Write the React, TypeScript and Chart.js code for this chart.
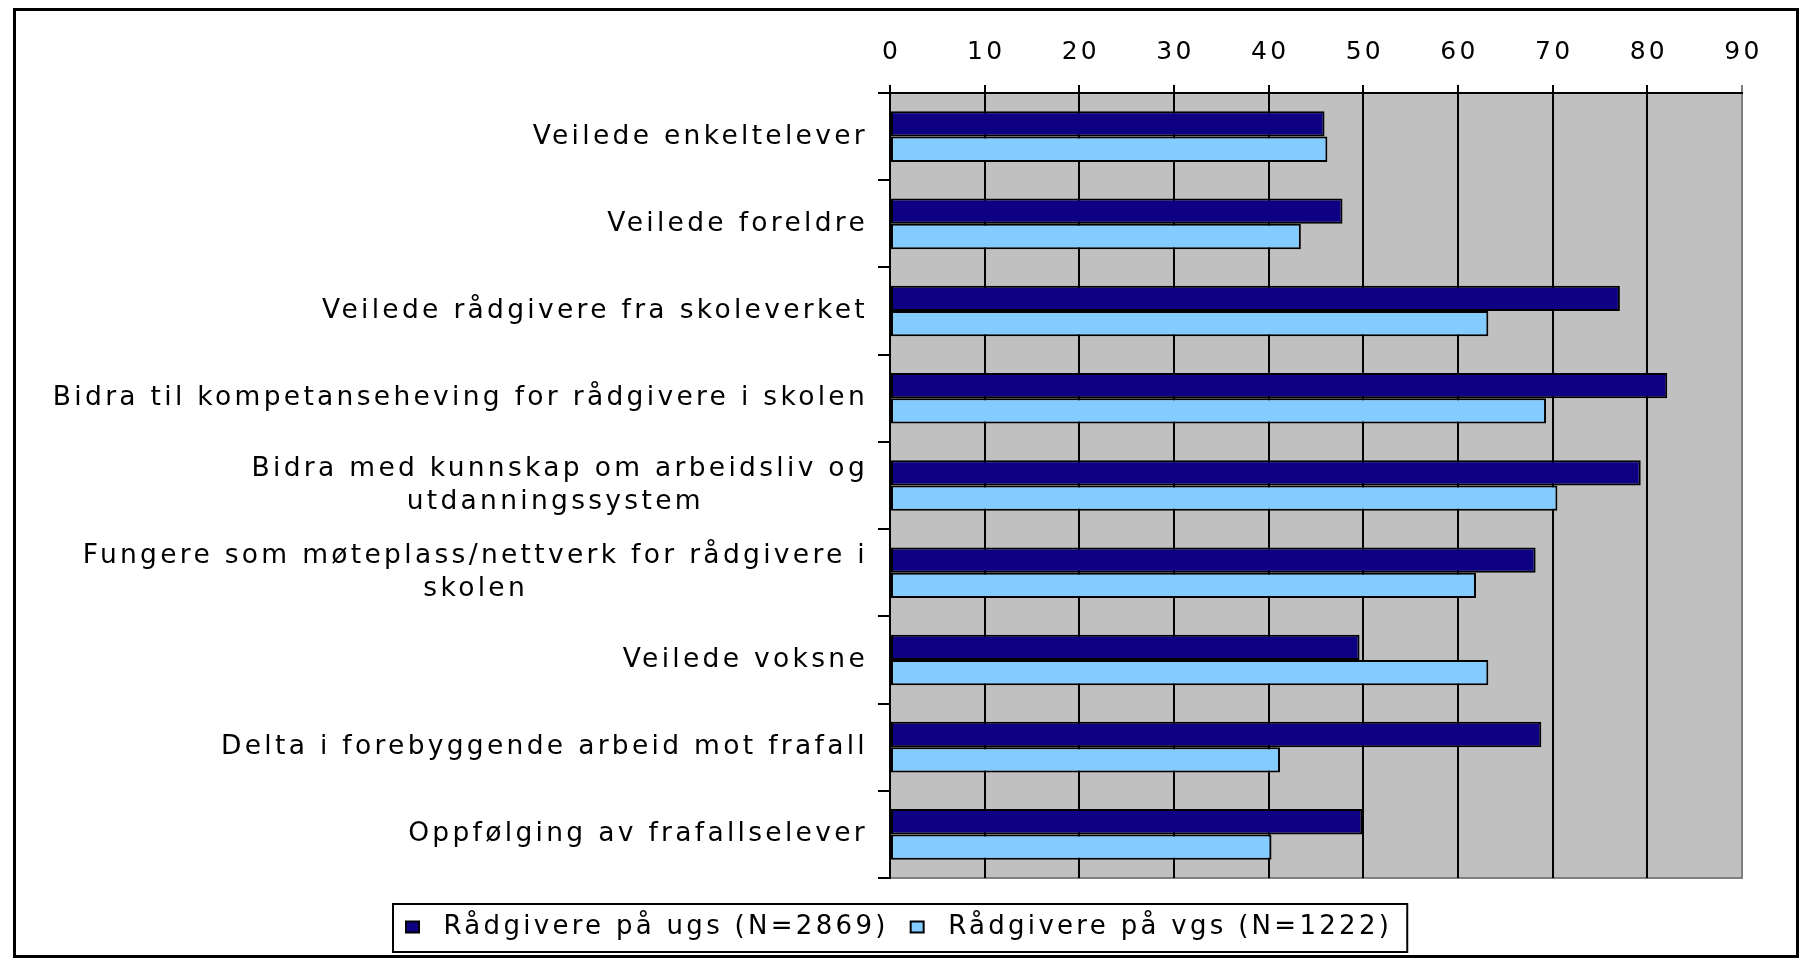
import React, { useEffect, useRef } from "react";
import { Chart, registerables } from "chart.js";

Chart.register(...registerables);

const categories: (string | string[])[] = [
  "Veilede enkeltelever",
  "Veilede foreldre",
  "Veilede rådgivere fra skoleverket",
  "Bidra til kompetanseheving for rådgivere i skolen",
  ["Bidra med kunnskap om arbeidsliv og", "utdanningssystem"],
  ["Fungere som møteplass/nettverk for rådgivere i", "skolen"],
  "Veilede voksne",
  "Delta i forebyggende arbeid mot frafall",
  "Oppfølging av frafallselever",
];

const seriesNames = ["Rådgivere på ugs (N=2869)", "Rådgivere på vgs (N=1222)"];
const ugsValues = [45.9, 47.8, 77.1, 82.1, 79.3, 68.2, 49.6, 68.8, 49.9];
const vgsValues = [46.2, 43.4, 63.2, 69.3, 70.5, 61.9, 63.2, 41.2, 40.3];
const xMin = 0;
const xMax = 90;
const xStep = 10;

const FAMILY = "'DejaVu Sans', sans-serif";
const LS = "3.3px";
const LABEL_SIZE = 26.5;
const PAD_LEFT = 30;
const LEGEND_START = 406;

function centerLines(label: string | string[]): string | string[] {
  if (!Array.isArray(label)) return label;
  const c = document.createElement("canvas").getContext("2d") as any;
  c.font = `${LABEL_SIZE}px ${FAMILY}`;
  c.letterSpacing = LS;
  const widths = label.map((l) => c.measureText(l).width);
  const max = Math.max(...widths);
  const sp = c.measureText(" ").width;
  return label.map(
    (l, i) => l + " ".repeat(Math.max(0, Math.round((max - widths[i]) / 2 / sp)))
  );
}

const spacingPlugin = {
  id: "letterSpacing",
  beforeLayout(chart: any) {
    chart.ctx.letterSpacing = LS;
    const lg = chart.legend;
    if (lg && !lg._shiftWrapped) {
      lg._shiftWrapped = true;
      const orig = lg.draw;
      lg.draw = function (...args: any[]) {
        const ctx = this.ctx;
        const pad = this.options.labels.padding;
        const startX = (this.left + pad + this.right - this.lineWidths[0]) / 2;
        const dx = LEGEND_START - startX;
        this._dx = dx;
        ctx.save();
        ctx.translate(dx, 0);
        orig.apply(this, args);
        ctx.restore();
      };
    }
  },
  beforeDraw(chart: any) {
    chart.ctx.letterSpacing = LS;
  },
};

const plotAreaPlugin = {
  id: "plotArea",
  beforeDraw(chart: any) {
    const { ctx, chartArea } = chart;
    const { left, top, right, bottom } = chartArea;
    ctx.save();
    ctx.fillStyle = "#C0C0C0";
    ctx.fillRect(left, top, right - left, bottom - top);
    ctx.strokeStyle = "#808080";
    ctx.lineWidth = 2;
    ctx.beginPath();
    ctx.moveTo(left, bottom);
    ctx.lineTo(right, bottom);
    ctx.lineTo(right, top);
    ctx.stroke();
    ctx.restore();
  },
};

const legendBorderPlugin = {
  id: "legendBorder",
  afterDraw(chart: any) {
    const lg = chart.legend;
    const hb = lg && lg.legendHitBoxes;
    if (!hb || !hb.length) return;
    const dx = lg._dx || 0;
    const first = hb[0];
    const last = hb[hb.length - 1];
    const x0 = first.left + dx - 13;
    const x1 = last.left + dx + last.width + 15;
    const y0 = first.top - 10;
    const y1 = first.top + first.height + 12;
    const ctx = chart.ctx;
    ctx.save();
    ctx.strokeStyle = "#000";
    ctx.lineWidth = 2;
    ctx.strokeRect(x0, y0, x1 - x0, y1 - y0);
    ctx.restore();
  },
};

export default function App() {
  const ref = useRef<HTMLCanvasElement | null>(null);

  useEffect(() => {
    if (!ref.current) return;
    const labels = categories.map(centerLines);
    const chart = new Chart(ref.current, {
      type: "bar",
      data: {
        labels,
        datasets: [
          {
            label: seriesNames[0],
            data: ugsValues,
            backgroundColor: "#0D0083",
            borderColor: "#000000",
            borderWidth: 2,
            borderSkipped: false,
            categoryPercentage: 0.58,
            barPercentage: 1.0,
          },
          {
            label: seriesNames[1],
            data: vgsValues,
            backgroundColor: "#84CBFF",
            borderColor: "#000000",
            borderWidth: 2,
            borderSkipped: false,
            categoryPercentage: 0.58,
            barPercentage: 1.0,
          },
        ],
      },
      options: {
        indexAxis: "y",
        responsive: false,
        animation: false,
        layout: { padding: { left: PAD_LEFT, right: 74, top: 10, bottom: 22 } },
        scales: {
          x: {
            position: "top",
            min: xMin,
            max: xMax,
            ticks: {
              stepSize: xStep,
              color: "#000",
              font: { family: FAMILY, size: 25 },
              padding: 18,
              labelOffset: 1.5,
              autoSkip: false,
              maxRotation: 0,
            },
            grid: {
              color: (ctx: any) =>
                ctx.tick && ctx.tick.value === xMax ? "#808080" : "#000000",
              lineWidth: 2,
              tickLength: 8,
              drawTicks: true,
            },
            border: { display: true, color: "#000", width: 2 },
            afterFit: (s: any) => {
              s.height = 83;
            },
          },
          y: {
            ticks: {
              color: "#000",
              font: { family: FAMILY, size: LABEL_SIZE, lineHeight: 1.22 },
              padding: 10,
              autoSkip: false,
            },
            grid: {
              drawOnChartArea: false,
              color: "#000",
              lineWidth: 2,
              tickLength: 12,
              offset: true,
            },
            border: { display: true, color: "#000", width: 2 },
            afterFit: (s: any) => {
              s.width = 890 - PAD_LEFT;
            },
          },
        },
        plugins: {
          legend: {
            position: "bottom",
            title: {
              display: true,
              text: "",
              font: { size: 1, lineHeight: 1 },
              padding: { top: 13, bottom: 0 },
            },
            labels: {
              boxWidth: 13,
              boxHeight: 11,
              padding: 22,
              color: "#000",
              font: { family: FAMILY, size: 26 },
              generateLabels: (chart: any) => {
                const items = Chart.defaults.plugins.legend.labels.generateLabels(chart);
                return items.map((it: any) => ({ ...it, text: " " + it.text }));
              },
            },
          },
          tooltip: { enabled: false },
        },
      } as any,
      plugins: [spacingPlugin, plotAreaPlugin, legendBorderPlugin],
    });
    return () => chart.destroy();
  }, []);

  return (
    <div style={{ position: "absolute", left: 0, top: 0, width: 1816, height: 972 }}>
      <canvas ref={ref} width={1816} height={972} style={{ display: "block" }} />
      <div
        style={{
          position: "absolute",
          left: 13,
          top: 8,
          width: 1786,
          height: 950,
          border: "3px solid #000",
          boxSizing: "border-box",
          pointerEvents: "none",
        }}
      />
    </div>
  );
}
